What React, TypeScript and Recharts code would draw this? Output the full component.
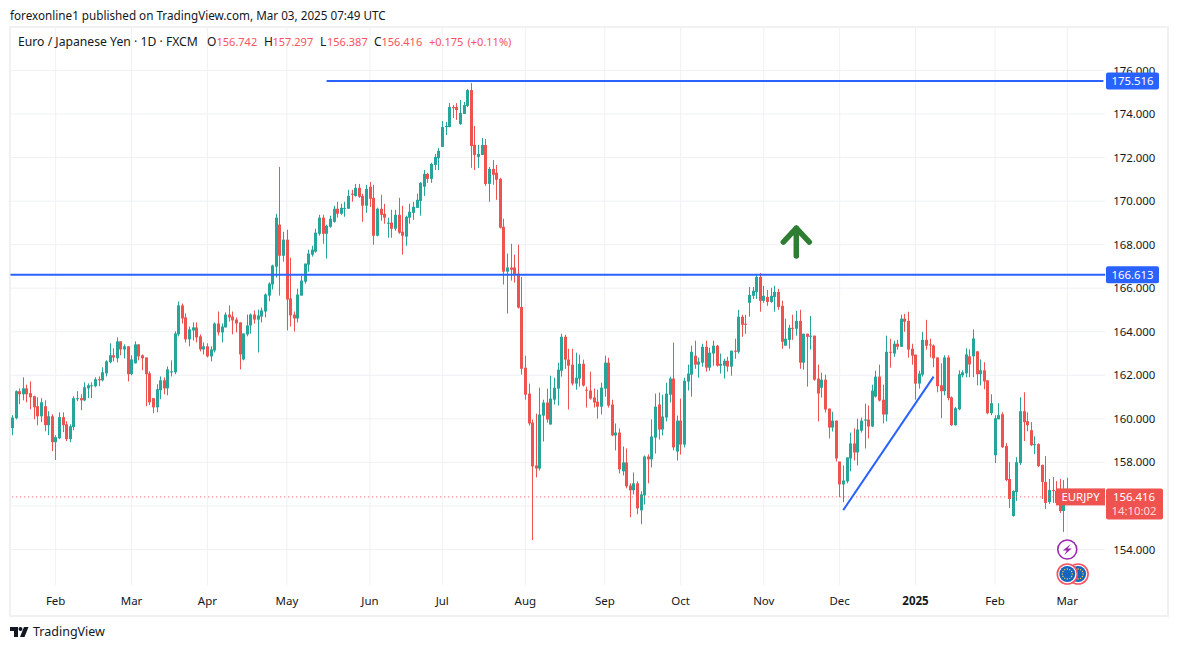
import React from 'react';
import {
  ComposedChart,
  Bar,
  XAxis,
  YAxis,
  CartesianGrid,
  ReferenceLine,
  ReferenceDot
} from 'recharts';

const UP = '#26a69a';
const DOWN = '#ef5350';
const BLUE = '#2962ff';
const GRID = '#eff1f5';
const FONT = '"Noto Sans", sans-serif';

const opens = [
  159.57, 160.03, 161.27, 161.13, 161.40, 161.18, 161.04, 160.58, 160.12, 160.58,
  159.71, 160.12, 158.93, 159.11, 160.08, 159.75, 159.07, 159.62, 160.90, 160.95,
  160.85, 161.40, 161.51, 161.50, 161.82, 161.77, 162.09, 162.60, 162.92, 162.78,
  163.56, 163.19, 163.33, 162.05, 162.55, 163.42, 162.92, 162.82, 162.09, 160.95,
  160.53, 161.31, 161.77, 161.40, 162.14, 162.14, 163.88, 165.21, 164.66, 163.65,
  164.06, 164.20, 163.79, 163.19, 163.33, 162.87, 163.14, 164.38, 163.97, 164.20,
  164.79, 164.70, 164.56, 164.43, 162.73, 163.88, 164.29, 164.79, 164.56, 164.70,
  164.93, 165.66, 166.17, 166.99, 168.92, 167.49, 168.23, 165.53, 164.79, 164.61,
  165.66, 166.30, 167.08, 167.54, 167.68, 168.50, 169.24, 168.50, 168.82, 169.05,
  169.65, 169.42, 169.65, 169.65, 170.34, 170.24, 170.61, 170.24, 169.79, 170.66,
  170.15, 168.41, 169.65, 169.42, 168.96, 169.01, 168.73, 169.37, 168.59, 168.37,
  169.24, 169.46, 169.69, 170.01, 170.66, 171.25, 171.02, 171.66, 171.98, 172.49,
  173.40, 173.40, 174.32, 174.32, 173.54, 174.00, 174.37, 175.10, 172.58, 172.03,
  172.12, 172.58, 170.79, 171.48, 171.30, 171.02, 168.82, 166.76, 166.95, 166.95,
  166.67, 165.14, 162.35, 161.16, 159.83, 157.86, 157.72, 160.15, 160.75, 159.74,
  160.88, 161.39, 162.21, 163.77, 162.72, 162.49, 161.62, 161.85, 162.53, 161.34,
  161.30, 160.98, 160.79, 160.56, 161.39, 162.58, 160.66, 159.24, 159.37, 157.59,
  158.00, 156.94, 156.72, 157.04, 155.80, 156.49, 158.27, 158.14, 159.14, 160.66,
  159.51, 160.06, 161.11, 161.85, 158.50, 159.92, 158.82, 161.71, 162.03, 162.90,
  162.49, 162.58, 163.31, 162.35, 163.00, 163.36, 162.44, 162.44, 162.67, 162.40,
  163.13, 163.08, 164.69, 164.37, 165.33, 165.65, 165.83, 166.52, 165.42, 165.60,
  165.37, 165.60, 165.83, 165.19, 163.36, 163.63, 164.18, 164.14, 164.50, 162.58,
  163.91, 163.77, 163.82, 161.85, 161.43, 161.80, 160.47, 159.60, 159.92, 158.04,
  156.99, 157.13, 158.18, 158.87, 158.46, 159.46, 159.92, 159.97, 159.65, 161.02,
  161.94, 160.88, 160.20, 163.08, 163.00, 163.45, 163.31, 164.60, 164.50, 163.22,
  162.95, 161.62, 162.03, 163.63, 163.42, 163.37, 162.82, 161.54, 161.27, 162.82,
  160.99, 159.71, 160.44, 162.00, 162.09, 162.87, 162.87, 163.10, 162.05, 162.23,
  161.77, 160.26, 158.33, 159.98, 160.21, 158.75, 157.24, 155.54, 156.64, 157.97,
  160.35, 159.89, 159.48, 158.79, 158.84, 157.88, 157.10, 156.18, 156.73, 156.69,
  156.14, 155.77, 156.742
];

const highs = [
  160.17, 161.31, 161.40, 161.91, 161.57, 161.72, 161.07, 160.99, 160.95, 160.85,
  160.35, 160.21, 159.25, 160.30, 160.30, 159.89, 159.75, 161.04, 161.27, 161.13,
  161.68, 161.63, 161.68, 161.91, 161.95, 162.37, 162.69, 163.47, 163.24, 163.74,
  163.56, 163.42, 163.33, 162.92, 163.56, 163.42, 162.96, 162.82, 162.18, 160.95,
  161.59, 161.95, 161.91, 162.41, 162.69, 164.02, 165.39, 165.30, 164.84, 164.24,
  164.43, 164.43, 163.88, 163.51, 163.47, 163.33, 164.43, 164.93, 164.38, 164.89,
  165.21, 164.93, 164.66, 164.43, 163.92, 164.79, 164.84, 164.98, 165.02, 165.11,
  165.76, 166.27, 167.08, 169.42, 171.57, 168.59, 168.69, 167.40, 164.93, 165.98,
  166.58, 167.13, 167.77, 167.95, 168.73, 169.37, 169.37, 168.92, 169.33, 169.79,
  169.97, 169.88, 169.97, 170.52, 170.52, 170.79, 170.79, 170.34, 170.75, 170.88,
  170.75, 169.70, 170.29, 169.88, 169.24, 169.60, 169.60, 170.15, 169.79, 169.33,
  169.88, 169.97, 170.34, 170.88, 171.43, 171.30, 171.76, 172.17, 172.44, 173.68,
  173.63, 174.50, 174.41, 174.50, 174.64, 174.55, 175.15, 175.42, 173.45, 172.58,
  172.90, 172.85, 171.57, 171.89, 171.66, 171.07, 169.19, 167.59, 168.04, 167.54,
  168.00, 166.52, 162.90, 161.62, 159.97, 160.24, 161.43, 160.88, 161.39, 161.98,
  161.89, 162.58, 163.91, 163.86, 163.22, 163.22, 163.04, 162.95, 162.72, 161.48,
  162.17, 161.39, 161.34, 161.66, 162.90, 162.81, 160.88, 159.79, 159.56, 158.73,
  158.64, 157.04, 157.54, 157.13, 156.67, 158.32, 158.37, 159.97, 161.16, 161.21,
  161.11, 161.66, 161.94, 163.50, 160.15, 160.93, 161.89, 162.49, 163.36, 163.59,
  162.81, 163.45, 163.59, 163.27, 163.59, 163.40, 163.00, 162.76, 162.85, 163.13,
  163.68, 165.01, 164.78, 164.78, 166.06, 166.06, 166.61, 166.70, 166.11, 165.92,
  166.02, 166.11, 165.97, 165.42, 164.60, 164.32, 164.78, 164.96, 165.01, 163.91,
  163.91, 164.73, 163.82, 162.49, 162.12, 162.03, 160.47, 160.33, 159.92, 158.04,
  157.86, 158.23, 159.37, 159.56, 160.01, 160.06, 160.70, 160.61, 161.57, 162.21,
  162.49, 161.57, 163.82, 163.68, 163.59, 163.63, 164.78, 164.82, 164.92, 163.45,
  162.95, 162.21, 164.00, 164.55, 163.69, 163.42, 162.82, 162.55, 162.92, 162.92,
  161.03, 160.55, 162.23, 162.23, 163.24, 163.19, 164.11, 163.10, 162.73, 162.60,
  161.77, 161.13, 160.17, 160.72, 160.30, 158.88, 158.01, 156.72, 158.24, 160.99,
  161.22, 160.30, 159.85, 159.20, 158.88, 157.90, 158.29, 157.24, 157.33, 157.14,
  157.24, 157.19, 157.297
];

const lows = [
  159.25, 159.98, 160.67, 160.85, 160.76, 160.44, 159.98, 159.71, 159.85, 159.43,
  159.25, 158.52, 158.11, 159.07, 159.39, 158.98, 158.93, 159.48, 160.81, 160.40,
  160.81, 160.95, 160.95, 161.45, 161.50, 161.72, 161.95, 162.55, 162.64, 162.60,
  162.92, 162.78, 161.72, 162.00, 162.55, 162.69, 162.23, 160.58, 160.63, 160.26,
  160.30, 160.90, 161.13, 161.08, 161.95, 162.05, 163.79, 164.38, 163.51, 163.33,
  163.60, 163.51, 163.10, 162.96, 162.82, 162.64, 163.05, 163.83, 163.51, 164.20,
  164.47, 163.88, 163.97, 162.27, 162.69, 163.79, 163.92, 164.38, 163.05, 164.43,
  164.66, 165.40, 165.94, 166.49, 165.66, 167.22, 164.06, 164.24, 164.01, 164.43,
  165.66, 166.21, 166.76, 167.45, 167.63, 168.41, 168.04, 167.36, 168.78, 169.01,
  169.24, 169.37, 169.28, 169.65, 169.97, 170.20, 170.15, 169.05, 169.46, 169.74,
  168.00, 168.38, 169.10, 168.96, 168.32, 168.32, 168.64, 168.50, 167.54, 167.95,
  168.96, 169.14, 169.69, 169.33, 170.24, 170.84, 170.84, 171.43, 171.43, 172.49,
  173.04, 173.40, 173.82, 173.73, 173.50, 174.00, 174.32, 171.53, 171.43, 171.53,
  172.12, 170.70, 169.97, 170.75, 170.06, 168.74, 166.17, 164.84, 166.35, 166.26,
  165.07, 162.03, 160.88, 159.69, 154.43, 157.31, 157.63, 158.96, 159.83, 159.74,
  160.66, 160.61, 161.94, 162.30, 160.43, 161.53, 161.34, 161.48, 161.48, 160.52,
  160.88, 160.52, 160.01, 160.20, 161.02, 160.52, 159.20, 158.55, 157.49, 157.40,
  156.81, 155.48, 156.53, 155.62, 155.16, 156.07, 157.04, 157.77, 158.41, 159.05,
  159.24, 159.88, 160.75, 158.55, 158.09, 158.36, 158.69, 161.30, 161.02, 162.30,
  161.89, 162.40, 162.17, 162.21, 162.44, 162.40, 162.08, 161.85, 162.17, 161.98,
  162.76, 163.00, 163.77, 163.91, 164.69, 165.51, 165.51, 164.92, 165.33, 165.19,
  165.33, 164.92, 165.01, 163.22, 163.36, 163.22, 163.63, 163.82, 162.30, 162.26,
  161.48, 163.18, 161.75, 159.88, 160.98, 160.29, 159.10, 159.42, 158.04, 156.40,
  156.17, 157.04, 157.59, 158.09, 157.86, 159.37, 158.64, 159.10, 159.62, 160.98,
  160.80, 159.79, 159.88, 162.35, 162.85, 163.18, 163.31, 164.00, 162.81, 162.49,
  160.88, 161.39, 161.94, 163.18, 162.82, 162.37, 161.22, 160.03, 161.08, 160.85,
  159.68, 159.68, 160.40, 161.91, 161.91, 161.91, 161.91, 161.54, 161.54, 161.36,
  160.21, 160.17, 157.97, 159.98, 158.66, 157.14, 155.91, 155.51, 156.23, 157.88,
  158.98, 159.43, 158.75, 158.38, 157.79, 156.32, 155.86, 156.09, 156.14, 156.04,
  155.68, 154.81, 156.387
];

const closes = [
  160.06, 161.27, 161.13, 161.40, 161.13, 160.99, 160.53, 160.12, 160.76, 159.71,
  160.12, 158.93, 159.16, 160.08, 159.71, 159.07, 159.66, 160.95, 160.95, 160.85,
  161.45, 161.54, 161.54, 161.82, 161.77, 162.14, 162.64, 162.92, 162.82, 163.56,
  163.19, 163.33, 162.05, 162.73, 163.42, 162.87, 162.78, 162.05, 160.76, 160.53,
  161.36, 161.77, 161.40, 162.27, 162.18, 163.92, 165.21, 164.61, 163.65, 164.11,
  164.20, 163.74, 163.19, 163.33, 162.87, 163.19, 164.38, 163.97, 164.24, 164.79,
  164.66, 164.52, 164.38, 162.96, 163.92, 164.29, 164.79, 164.56, 164.75, 164.98,
  165.71, 166.21, 167.04, 169.24, 167.49, 168.23, 165.48, 164.75, 164.61, 165.71,
  166.35, 167.13, 167.59, 167.77, 168.55, 169.24, 168.50, 168.87, 169.19, 169.65,
  169.42, 169.69, 169.69, 170.24, 170.29, 170.61, 170.20, 169.79, 170.56, 170.11,
  168.41, 169.65, 169.37, 169.24, 169.01, 168.73, 169.37, 168.55, 168.41, 169.28,
  169.51, 169.74, 170.06, 170.84, 171.25, 171.02, 171.71, 172.03, 172.31, 173.40,
  173.45, 174.32, 174.27, 174.18, 174.05, 174.41, 175.10, 172.53, 172.12, 172.17,
  172.58, 170.79, 171.48, 171.21, 170.98, 168.78, 166.76, 166.95, 166.85, 166.62,
  165.11, 162.30, 161.11, 159.79, 157.82, 157.72, 160.20, 160.75, 159.97, 160.93,
  161.43, 162.26, 163.77, 162.72, 162.44, 161.62, 161.89, 162.53, 161.53, 161.30,
  160.93, 160.75, 160.56, 161.43, 162.58, 160.61, 159.24, 159.37, 157.68, 158.00,
  156.90, 156.72, 157.04, 155.89, 156.53, 158.27, 158.14, 159.19, 160.56, 159.51,
  160.11, 161.16, 161.85, 158.69, 159.92, 158.82, 161.75, 162.08, 163.08, 162.49,
  162.63, 163.31, 162.35, 163.04, 163.36, 162.44, 162.53, 162.67, 162.40, 163.13,
  163.08, 164.69, 164.32, 164.32, 165.69, 165.88, 166.52, 165.42, 165.65, 165.37,
  165.65, 165.83, 165.14, 163.54, 163.68, 164.18, 164.14, 164.50, 162.58, 163.91,
  163.77, 163.82, 161.80, 161.16, 161.80, 160.43, 159.60, 159.92, 158.18, 156.99,
  157.17, 158.23, 158.87, 158.46, 159.51, 159.92, 159.97, 159.65, 161.30, 161.94,
  160.84, 160.20, 163.08, 163.04, 163.45, 163.31, 164.60, 164.46, 163.18, 162.90,
  161.62, 162.08, 163.63, 163.36, 163.37, 162.78, 161.50, 161.27, 162.82, 160.95,
  159.71, 160.49, 162.05, 162.14, 162.96, 162.50, 163.69, 162.05, 162.23, 161.72,
  160.26, 160.72, 160.03, 160.17, 158.70, 157.19, 156.32, 156.69, 158.01, 160.35,
  159.85, 159.71, 158.79, 158.84, 157.83, 157.10, 156.14, 156.73, 156.69, 156.14,
  155.77, 156.09, 156.416
];

const monthLabels = ['Feb', 'Mar', 'Apr', 'May', 'Jun', 'Jul', 'Aug', 'Sep', 'Oct', 'Nov', 'Dec', '2025', 'Feb', 'Mar'];
const monthStarts = [12, 33, 54, 76, 99, 119, 142, 164, 185, 208, 229, 250, 272, 292];
const priceTicks = [154, 156, 158, 160, 162, 164, 166, 168, 170, 172, 174, 176];
const priceDomain = [152.37, 177.95];

const resistanceTop = 175.516;
const resistanceMid = 166.613;
const lastPrice = 156.416;
const trendLine = [{ x: 230, y: 155.81 }, { x: 255, y: 161.94 }];

// empty days on the right so the price scale sits where it does on the site
const EMPTY_DAYS = 10;
const table = [
  ...opens.map((o, i) => ({
    idx: i,
    open: o,
    high: highs[i],
    low: lows[i],
    close: closes[i],
    range: [lows[i], highs[i]]
  })),
  ...Array.from({ length: EMPTY_DAYS }, (_, i) => ({ idx: opens.length + i, range: null }))
];
const lastSlot = opens.length + EMPTY_DAYS - 1;

const Candle = (props: any) => {
  const { x, y, width, height, payload } = props;
  if (!payload || payload.open === undefined) return null;
  const { open, close, high, low } = payload;
  const perUnit = height / (high - low);
  const color = close >= open ? UP : DOWN;
  const cx = Math.round(x + width / 2 - 0.5) + 0.5;
  const top = y + (high - Math.max(open, close)) * perUnit;
  const bodyH = Math.max(Math.abs(open - close) * perUnit, 1);
  return (
    <g>
      <rect x={cx - 0.5} y={y} width={1} height={height} fill={color} />
      <rect x={cx - 1.5} y={top} width={3} height={bodyH} fill={color} />
    </g>
  );
};

const MonthTick = (props: any) => {
  const { x, payload } = props;
  const label = monthLabels[monthStarts.indexOf(payload.value)];
  return (
    <text
      x={x}
      y={605}
      textAnchor="middle"
      fontFamily={FONT}
      fontSize={11.5}
      fontWeight={label === '2025' ? 700 : 400}
      fill="#131722"
    >
      {label}
    </text>
  );
};

const BlueTag = (props: any) => {
  const { cx, cy, value } = props;
  const left = cx + 2.6;
  return (
    <g>
      <rect x={left} y={cy - 8.5} width={53} height={17} rx={2} fill={BLUE} />
      <text x={left + 26.5} y={cy + 4.2} textAnchor="middle" fontFamily={FONT} fontSize={11.4} fill="#fff">
        {value}
      </text>
    </g>
  );
};

const LastTag = (props: any) => {
  const { cx, cy } = props;
  const left = cx + 2.6;
  return (
    <g>
      <rect x={left - 50} y={cy - 8.5} width={49} height={17} fill={DOWN} />
      <text x={left - 25.5} y={cy + 4.2} textAnchor="middle" fontFamily={FONT} fontSize={11.4} fill="#fff">
        EURJPY
      </text>
      <rect x={left} y={cy - 8.5} width={57} height={31} rx={2} fill={DOWN} />
      <text x={left + 28} y={cy + 4.2} textAnchor="middle" fontFamily={FONT} fontSize={11.4} fill="#fff">
        {lastPrice.toFixed(3)}
      </text>
      <text x={left + 28} y={cy + 18.5} textAnchor="middle" fontFamily={FONT} fontSize={11.4} fill="#ffd9d9">
        14:10:02
      </text>
    </g>
  );
};

const UpArrow = (props: any) => {
  const { cx, cy } = props;
  return (
    <path
      d={`M${cx - 13} ${cy} L${cx} ${cy - 14} L${cx + 13} ${cy} M${cx} ${cy - 14} L${cx} ${cy + 14}`}
      fill="none"
      stroke="#2e7d32"
      strokeWidth={5.5}
      strokeLinecap="round"
      strokeLinejoin="round"
    />
  );
};

const BoltIcon = (props: any) => {
  const { cx, cy } = props;
  return (
    <g>
      <circle cx={cx} cy={cy} r={9.5} fill="#fff" stroke="#9c27b0" strokeWidth={1.6} />
      <path
        d={`M${cx + 3.5} ${cy - 5.5} L${cx - 4.5} ${cy + 1} L${cx - 0.5} ${cy + 1} L${cx - 3} ${cy + 5.5} L${cx + 4.5} ${cy - 1} L${cx + 0.5} ${cy - 1} Z`}
        fill="#9c27b0"
      />
    </g>
  );
};

const EuroFlag = (props: any) => {
  const { cx, cy } = props;
  const stars = [0, 1, 2, 3, 4, 5, 6, 7, 8, 9, 10, 11];
  return (
    <g>
      <circle cx={cx} cy={cy} r={10} fill="#fff" stroke="#f7525f" strokeWidth={1.6} />
      <circle cx={cx} cy={cy} r={8} fill="#1565c0" />
      {stars.map(s => (
        <circle
          key={s}
          cx={cx + 5 * Math.cos((s * Math.PI) / 6)}
          cy={cy + 5 * Math.sin((s * Math.PI) / 6)}
          r={0.7}
          fill="#fdd835"
        />
      ))}
    </g>
  );
};

const absText = (left: number, top: number, text: string, color: string, size = 11) => (
  <span
    style={{
      position: 'absolute',
      left,
      top,
      color,
      fontFamily: FONT,
      fontSize: size,
      lineHeight: '16px',
      whiteSpace: 'nowrap'
    }}
  >
    {text}
  </span>
);

export default function App() {
  const red = '#f7525f';
  const dark = '#131722';
  return (
    <div style={{ position: 'absolute', left: 0, top: 0, width: 1177, height: 650, background: '#fff', overflow: 'hidden' }}>
      <div
        style={{
          position: 'absolute',
          left: 9,
          top: 26,
          width: 1156,
          height: 587,
          border: `2px solid ${GRID}`
        }}
      />
      <ComposedChart
        width={1177}
        height={650}
        data={table}
        barCategoryGap={0}
        margin={{ top: 28, right: 11.8, bottom: 35, left: 10.5 }}
        style={{ position: 'absolute', left: 0, top: 0 }}
      >
        <CartesianGrid stroke={GRID} strokeWidth={1} syncWithTicks />
        <XAxis
          dataKey="idx"
          type="category"
          ticks={monthStarts}
          interval={0}
          height={30}
          axisLine={false}
          tickLine={false}
          tick={<MonthTick />}
        />
        <YAxis
          orientation="right"
          width={60}
          domain={priceDomain}
          ticks={priceTicks}
          interval={0}
          allowDataOverflow
          axisLine={false}
          tickLine={false}
          // the 156 label sits behind the last price tag on the site
          tickFormatter={(v: number) => (v === 156 ? '' : v.toFixed(3))}
          tick={{ fontFamily: FONT, fontSize: 11.4, fill: dark }}
        />
        <Bar dataKey="range" shape={<Candle />} isAnimationActive={false} />
        <ReferenceLine y={lastPrice} stroke={DOWN} strokeDasharray="1 3" />
        <ReferenceLine y={resistanceMid} stroke={BLUE} strokeWidth={2} />
        <ReferenceLine
          segment={[{ x: 87, y: resistanceTop }, { x: lastSlot, y: resistanceTop }]}
          stroke={BLUE}
          strokeWidth={2}
        />
        <ReferenceLine segment={trendLine} stroke={BLUE} strokeWidth={2} />
      </ComposedChart>

      {/* second chart on the same scales so the price tags cover the axis labels */}
      <ComposedChart
        width={1177}
        height={650}
        data={table}
        barCategoryGap={0}
        margin={{ top: 28, right: 71.8, bottom: 65, left: 10.5 }}
        style={{ position: 'absolute', left: 0, top: 0 }}
      >
        <XAxis dataKey="idx" type="category" hide />
        <YAxis hide domain={priceDomain} allowDataOverflow />
        <Bar dataKey="range" shape={() => null} isAnimationActive={false} />
        <ReferenceDot x={lastSlot} y={resistanceTop} shape={(p: any) => <BlueTag {...p} value={resistanceTop.toFixed(3)} />} />
        <ReferenceDot x={lastSlot} y={resistanceMid} shape={(p: any) => <BlueTag {...p} value={resistanceMid.toFixed(3)} />} />
        <ReferenceDot x={lastSlot} y={lastPrice} shape={<LastTag />} />
        <ReferenceDot x={217} y={168.12} shape={<UpArrow />} />
        <ReferenceDot x={292} y={154} shape={<BoltIcon />} />
        <ReferenceDot x={295} y={152.875} shape={<EuroFlag />} />
        <ReferenceDot x={292} y={152.875} shape={<EuroFlag />} />
      </ComposedChart>

      {absText(10, 7, 'forexonline1 published on TradingView.com, Mar 03, 2025 07:49 UTC', dark, 11.7)}
      {absText(18, 34, 'Euro / Japanese Yen · 1D · FXCM', dark, 12.2)}
      {absText(207, 34, 'O', dark, 12)}
      {absText(216.5, 34, '156.742', red)}
      {absText(264, 34, 'H', dark, 12)}
      {absText(272.5, 34, '157.297', red)}
      {absText(320, 34, 'L', dark, 12)}
      {absText(327, 34, '156.387', red)}
      {absText(374, 34, 'C', dark, 12)}
      {absText(381.5, 34, '156.416', red)}
      {absText(429, 34, '+0.175', red)}
      {absText(467.5, 34, '(+0.11%)', red)}

      <svg style={{ position: 'absolute', left: 0, top: 620 }} width={32} height={24}>
        <path d="M10 7h8v10h-4v-6h-4z" fill={dark} />
        <circle cx={20.5} cy={9} r={2} fill={dark} />
        <path d="M24 7h4.5l-4 10h-4.5z" fill={dark} />
      </svg>
      <span
        style={{
          position: 'absolute',
          left: 33,
          top: 623,
          fontFamily: FONT,
          fontSize: 12.5,
          lineHeight: '18px',
          color: dark
        }}
      >
        TradingView
      </span>
    </div>
  );
}
